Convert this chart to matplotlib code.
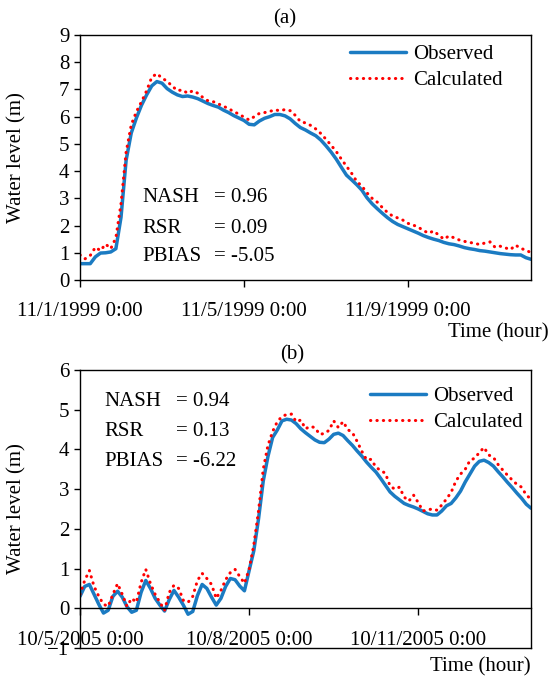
import numpy as np
import matplotlib
matplotlib.use("Agg")
import matplotlib.pyplot as plt
import pandas as pd

plt.rcParams['font.family'] = ['Liberation Serif', 'DejaVu Serif']
plt.rcParams['font.size'] = 15

# ---- panel (a): Nov 1999, 3-hourly readings
obs_a = [0.60, 0.60, 0.60, 0.85, 0.99, 1.00, 1.03, 1.15, 2.30, 4.40,
         5.40, 5.95, 6.42, 6.80, 7.13, 7.29, 7.23, 7.03, 6.90, 6.80,
         6.74, 6.76, 6.72, 6.66, 6.57, 6.48, 6.41, 6.35, 6.24, 6.15,
         6.04, 5.95, 5.86, 5.72, 5.70, 5.84, 5.94, 6.00, 6.08, 6.08,
         6.03, 5.92, 5.75, 5.60, 5.51, 5.40, 5.30, 5.14, 4.93, 4.70,
         4.44, 4.14, 3.85, 3.68, 3.50, 3.30, 3.02, 2.80, 2.62, 2.45,
         2.29, 2.15, 2.04, 1.96, 1.88, 1.80, 1.72, 1.63, 1.56, 1.50,
         1.45, 1.38, 1.33, 1.30, 1.25, 1.19, 1.15, 1.12, 1.08, 1.06,
         1.03, 1.00, 0.97, 0.95, 0.93, 0.92, 0.92, 0.82, 0.76]
calc_a = [0.92, 0.78, 0.90, 1.20, 1.08, 1.32, 1.15, 1.55, 2.80, 4.70,
          5.70, 6.18, 6.55, 6.95, 7.45, 7.58, 7.42, 7.30, 7.12, 6.96,
          6.98, 6.86, 6.95, 6.86, 6.70, 6.58, 6.55, 6.47, 6.38, 6.30,
          6.18, 6.10, 5.98, 5.88, 6.00, 6.12, 6.15, 6.19, 6.25, 6.22,
          6.26, 6.22, 6.05, 5.82, 5.77, 5.68, 5.55, 5.38, 5.17, 4.95,
          4.72, 4.44, 4.18, 3.92, 3.62, 3.45, 3.20, 3.00, 2.86, 2.66,
          2.48, 2.35, 2.28, 2.20, 2.08, 2.02, 1.94, 1.82, 1.72, 1.80,
          1.65, 1.50, 1.62, 1.55, 1.47, 1.42, 1.38, 1.35, 1.30, 1.36,
          1.40, 1.20, 1.24, 1.18, 1.12, 1.28, 1.16, 1.10, 1.00]
stats_a = [('NASH', '= 0.96'), ('RSR', '= 0.09'), ('PBIAS', '= -5.05')]
ticks_a = ['11/1/1999 0:00', '11/5/1999 0:00', '11/9/1999 0:00']

# ---- panel (b): Oct 2005, 2-hourly readings
obs_b = [0.30, 0.55, 0.60, 0.35, 0.10, -0.12, -0.05, 0.30, 0.43, 0.28,
         0.04, -0.10, -0.05, 0.40, 0.70, 0.50, 0.25, 0.08, -0.07, 0.22,
         0.45, 0.28, 0.08, -0.15, -0.08, 0.32, 0.60, 0.50, 0.28, 0.08,
         0.25, 0.55, 0.75, 0.72, 0.56, 0.44, 0.95, 1.45, 2.25, 3.20,
         3.82, 4.30, 4.49, 4.72, 4.76, 4.74, 4.65, 4.52, 4.42, 4.33,
         4.24, 4.18, 4.17, 4.26, 4.38, 4.41, 4.35, 4.22, 4.10, 3.96,
         3.83, 3.68, 3.55, 3.43, 3.27, 3.10, 2.93, 2.82, 2.73, 2.64,
         2.59, 2.55, 2.50, 2.44, 2.38, 2.35, 2.35, 2.45, 2.58, 2.64,
         2.78, 2.95, 3.18, 3.38, 3.58, 3.70, 3.73, 3.67, 3.58, 3.44,
         3.31, 3.17, 3.04, 2.90, 2.77, 2.62, 2.52]
calc_b = [0.35, 0.70, 0.95, 0.55, 0.30, 0.10, 0.05, 0.35, 0.62, 0.35,
          0.05, 0.25, 0.15, 0.65, 0.98, 0.62, 0.35, 0.15, -0.05, 0.40,
          0.58, 0.50, 0.20, 0.15, 0.30, 0.70, 0.88, 0.75, 0.60, 0.25,
          0.45, 0.72, 0.90, 0.98, 0.80, 0.63, 0.98, 1.60, 2.45, 3.50,
          4.10, 4.45, 4.70, 4.83, 4.88, 4.89, 4.70, 4.74, 4.52, 4.58,
          4.55, 4.38, 4.40, 4.48, 4.72, 4.55, 4.70, 4.50, 4.42, 4.20,
          3.95, 3.74, 3.75, 3.55, 3.47, 3.40, 3.08, 3.00, 3.05, 2.80,
          2.70, 2.85, 2.66, 2.45, 2.48, 2.50, 2.47, 2.60, 2.75, 2.92,
          3.20, 3.38, 3.50, 3.72, 3.78, 3.92, 4.05, 3.86, 3.80, 3.62,
          3.48, 3.35, 3.23, 3.12, 3.05, 2.85, 2.75]
stats_b = [('NASH', '= 0.94'), ('RSR', '= 0.13'), ('PBIAS', '= -6.22')]
ticks_b = ['10/5/2005 0:00', '10/8/2005 0:00', '10/11/2005 0:00']

t_a = pd.date_range('1999-11-01', periods=len(obs_a), freq='3h')
t_b = pd.date_range('2005-10-05', periods=len(obs_b), freq='2h')

blue = '#1b7bc2'
W, H = 552, 679
fig = plt.figure(figsize=(W / 100, H / 100), dpi=100)

def fr(x0, y0, x1, y1):
    # pixel box -> figure fraction
    return [x0 / W, 1 - y1 / H, (x1 - x0) / W, (y1 - y0) / H]

ax1 = fig.add_axes(fr(80, 35, 531, 280))
ax2 = fig.add_axes(fr(80, 370, 531, 648))

def style(ax, obs, calc, t, leg_xy):
    ax.plot(t, obs, color=blue, lw=2.5, label='Observed', solid_capstyle='round')
    ax.plot(t, calc, color='red', lw=2.2, linestyle=(0, (0.1, 2.0)),
            dash_capstyle='round', label='Calculated')
    for s in ax.spines.values():
        s.set_linewidth(1.0)
    ax.tick_params(axis='y', direction='out', length=4.5, width=1, pad=3)
    ax.tick_params(axis='x', direction='out', length=5, width=1, pad=11)
    ax.set_ylabel('Water level (m)')
    ax.yaxis.set_label_coords(-0.118, 0.5)
    ax.legend(loc='upper left', bbox_to_anchor=leg_xy, frameon=False,
              handlelength=2.7, handletextpad=0.35, labelspacing=0.3,
              borderpad=0, borderaxespad=0)

style(ax1, obs_a, calc_a, t_a, (0.598, 0.96))
ax1.set_xlim(pd.Timestamp('1999-11-01'), pd.Timestamp('1999-11-12'))
ax1.set_ylim(0, 9)
ax1.set_yticks(range(0, 10))
ax1.set_xticks(pd.to_datetime(['1999-11-01', '1999-11-05', '1999-11-09']))
ax1.set_xticklabels(ticks_a)
for i, (k, v) in enumerate(stats_a):
    y = [0.335, 0.212, 0.094][i]
    ax1.text(0.139, y, k, transform=ax1.transAxes, va='center')
    ax1.text(0.298, y, v, transform=ax1.transAxes, va='center')

style(ax2, obs_b, calc_b, t_b, (0.643, 0.94))
ax2.set_xlim(pd.Timestamp('2005-10-05'), pd.Timestamp('2005-10-13'))
ax2.set_ylim(-1, 6)
ax2.set_yticks(range(-1, 7))
ax2.spines['bottom'].set_position(('data', 0))
ax2.axhline(-1, color='black', lw=1.0, clip_on=False)
ax2.set_xticks(pd.to_datetime(['2005-10-05', '2005-10-08', '2005-10-11']))
ax2.set_xticklabels(ticks_b)
for i, (k, v) in enumerate(stats_b):
    y = [0.886, 0.778, 0.670][i]
    ax2.text(0.054, y, k, transform=ax2.transAxes, va='center')
    ax2.text(0.213, y, v, transform=ax2.transAxes, va='center')

fig.text(285 / W, 1 - 19 / H, '(a)', ha='center', va='center')
fig.text(292 / W, 1 - 355 / H, '(b)', ha='center', va='center')
fig.text(549 / W, 1 - 333 / H, 'Time (hour)', ha='right', va='center')
fig.text(531 / W, 1 - 667 / H, 'Time (hour)', ha='right', va='center')

fig.savefig('out.png', dpi=100)
